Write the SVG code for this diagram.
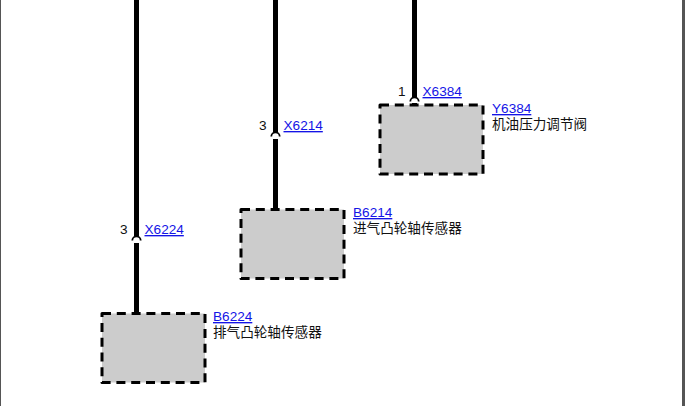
<svg xmlns="http://www.w3.org/2000/svg" width="685" height="406" viewBox="0 0 685 406">
<style>
.box{fill:#cccccc;stroke:#000;stroke-width:3;stroke-dasharray:9 5.800;stroke-linejoin:round}
.wire{fill:none;stroke:#000;stroke-width:5}
.hop{fill:none;stroke:#000;stroke-width:1.800}
text{font-family:"Liberation Sans","Noto Sans CJK SC",sans-serif;font-size:13.600px;fill:#111}
.link{fill:#1414e6;text-decoration:underline}
</style>
<rect width="685" height="406" fill="#fff"/>
<rect x="0" y="0" width="1" height="406" fill="#555"/>
<rect x="682" y="0" width="3" height="406" fill="#555"/>
<g id="connectors">
<path class="wire" d="M136.500 0V236M136.500 243V314"/>
<path class="hop" d="M132.300 240.500a4.200 4.200 0 0 1 8.400 0"/>
<path class="wire" d="M275.500 0V132M275.500 139V210"/>
<path class="hop" d="M271.300 136.500a4.200 4.200 0 0 1 8.400 0"/>
<path class="wire" d="M414.500 0V97M414.500 103V105"/>
<path class="hop" d="M410.300 101.500a4.200 4.200 0 0 1 8.400 0"/>
</g>
<g id="X6224"><text x="120" y="234">3</text><text class="link" x="144.500" y="234">X6224</text></g>
<g id="X6214"><text x="259" y="130">3</text><text class="link" x="283.500" y="130">X6214</text></g>
<g id="X6384"><text x="398" y="96">1</text><text class="link" x="422.500" y="96">X6384</text></g>
<g id="Y6384"><rect class="box" x="380" y="105" width="103" height="69"/><text class="link" x="492" y="113">Y6384</text><text x="492" y="129">机油压力调节阀</text></g>
<g id="B6214"><rect class="box" x="241" y="209.500" width="103" height="69"/><text class="link" x="353" y="217">B6214</text><text x="353" y="233">进气凸轮轴传感器</text></g>
<g id="B6224"><rect class="box" x="102" y="313.500" width="103" height="69"/><text class="link" x="213" y="321">B6224</text><text x="213" y="337">排气凸轮轴传感器</text></g>
</svg>
